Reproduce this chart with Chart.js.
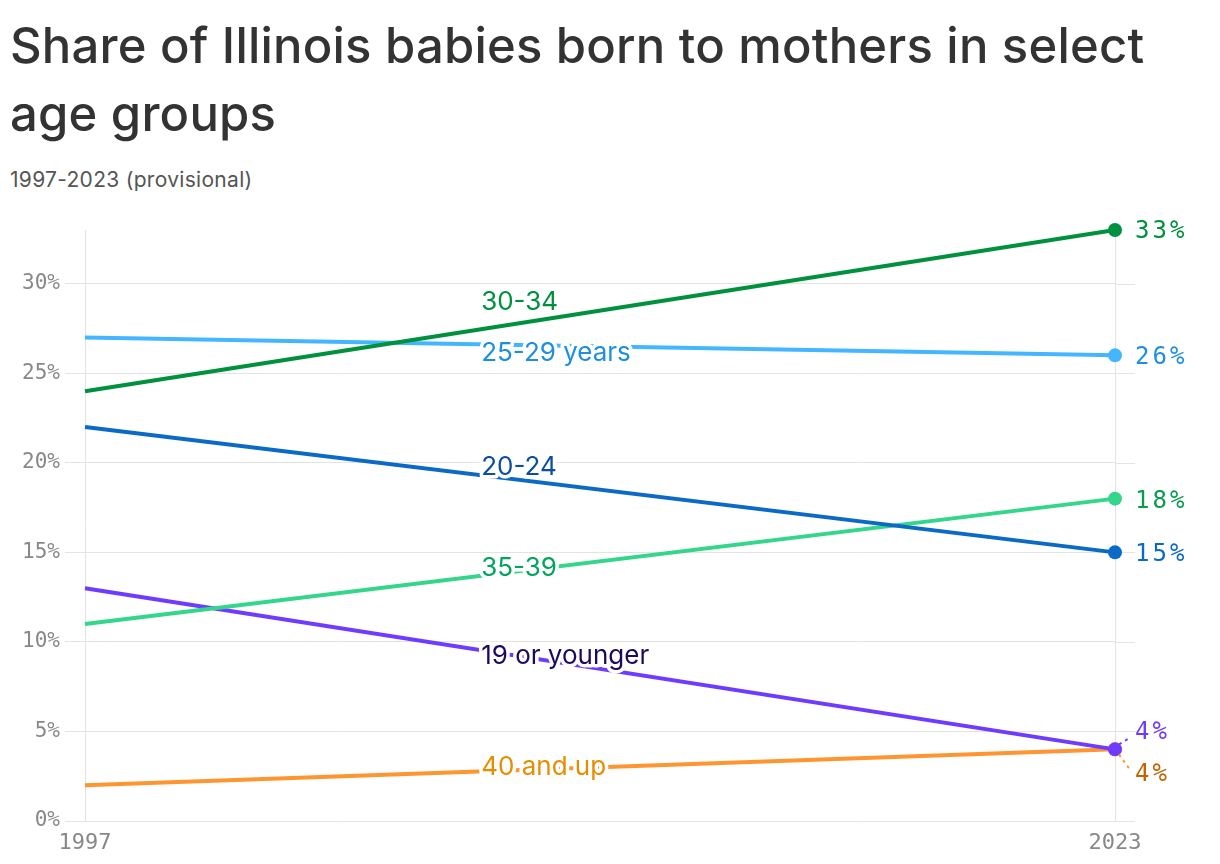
<!DOCTYPE html>
<html>
<head>
<meta charset="utf-8">
<script src="https://cdn.jsdelivr.net/npm/chart.js@4.4.0/dist/chart.umd.min.js"></script>
<style>
    body { margin: 0; background: #fff; width: 1220px; height: 864px; overflow: hidden; font-family: Inter, "Noto Sans", sans-serif; }
    h1 { position: absolute; left: 10px; top: 12px; margin: 0; width: 1180px; font-size: 49px; line-height: 68px; font-weight: 500; color: #333; letter-spacing: 0.2px; }
    .sub { position: absolute; left: 10px; top: 167px; font-size: 21px; color: #555; letter-spacing: 0.3px; }
    .wrap { position: absolute; left: 0; top: 200px; width: 1220px; height: 664px; }
</style>
</head>
<body>
<h1>Share of Illinois babies born to mothers in select age groups</h1>
<div class="sub">1997-2023 (provisional)</div>
<div class="wrap"><canvas id="grafico"></canvas></div>
<script>
// Datos
const anios = [1997, 2023];
const grupos = ['30-34', '25-29 years', '20-24', '35-39', '19 or younger', '40 and up'];
const edad3034 = [24, 33];
const edad2529 = [27, 26];
const edad2024 = [22, 15];
const edad3539 = [11, 18];
const edad19 = [13, 4];
const edad40 = [2, 4];
const ticksY = [0, 5, 10, 15, 20, 25, 30];
const etiquetasFinales = ['33%', '26%', '15%', '18%', '4%', '4%'];

// Estilos (separados de los datos)
const coloresLinea = ['#00913f', '#44b6ff', '#0b6ac6', '#33d68a', '#6e3bff', '#ff9530'];
const coloresTexto = ['#00913f', '#1e8fe0', '#0b4ea2', '#00a560', '#1c0a5c', '#e88c00'];
const coloresFinal = ['#00913f', '#1e8fe0', '#0b6ac6', '#0a9a50', '#6e3bff', '#c26400'];
const desplazTexto = [-27, 9, -8, -8, 6, -4];
const desplazFinal = [2, 2, 2, 3, -17, 25];
const anioEtiqueta = 2007;

const series = [edad3034, edad2529, edad2024, edad3539, edad19, edad40];
const mono = '"DejaVu Sans Mono", "Liberation Mono", monospace';

const etiquetasPlugin = {
    id: 'etiquetas',
    beforeDatasetsDraw(chart) {
        const { ctx, chartArea, scales } = chart;
        ctx.save();
        ctx.strokeStyle = '#e3e3e3';
        ctx.lineWidth = 1;
        ticksY.forEach(v => {
            const y = Math.round(scales.y.getPixelForValue(v)) + 0.5;
            ctx.beginPath();
            ctx.moveTo(chartArea.right, y);
            ctx.lineTo(chartArea.right + 20, y);
            ctx.stroke();
        });
        ctx.restore();
    },
    afterDatasetsDraw(chart) {
        const { ctx, chartArea, scales } = chart;
        ctx.save();
        // etiquetas en medio de la línea
        ctx.font = '26px Inter, "Noto Sans", sans-serif';
        ctx.textBaseline = 'middle';
        ctx.textAlign = 'left';
        const t = (anioEtiqueta - anios[0]) / (anios[1] - anios[0]);
        series.forEach((s, i) => {
            const v = s[0] + (s[1] - s[0]) * t;
            const x = scales.x.getPixelForValue(anioEtiqueta);
            const y = scales.y.getPixelForValue(v) + desplazTexto[i];
            ctx.lineJoin = 'round';
            ctx.strokeStyle = '#fff';
            ctx.lineWidth = 7;
            ctx.strokeText(grupos[i], x, y);
            ctx.fillStyle = coloresTexto[i];
            ctx.fillText(grupos[i], x, y);
        });
        // etiquetas al final
        ctx.font = '24px ' + mono;
        ctx.letterSpacing = '3px';
        series.forEach((s, i) => {
            const px = scales.x.getPixelForValue(anios[1]);
            const py = scales.y.getPixelForValue(s[1]);
            const y = py + desplazFinal[i];
            if (Math.abs(desplazFinal[i]) > 10) {
                ctx.setLineDash([3, 4]);
                ctx.strokeStyle = coloresLinea[i];
                ctx.lineWidth = 2;
                ctx.beginPath();
                ctx.moveTo(px + 4, py + Math.sign(desplazFinal[i]) * 5);
                ctx.lineTo(px + 14, y - Math.sign(desplazFinal[i]) * 6);
                ctx.stroke();
                ctx.setLineDash([]);
            }
            ctx.fillStyle = coloresFinal[i];
            ctx.fillText(etiquetasFinales[i], chartArea.right + 20, y);
        });
        ctx.restore();
    }
};

new Chart(document.getElementById('grafico'), {
    type: 'line',
    data: {
        datasets: series.map((s, i) => ({
            label: grupos[i],
            data: anios.map((a, j) => ({ x: a, y: s[j] })),
            borderColor: coloresLinea[i],
            backgroundColor: coloresLinea[i],
            borderWidth: 4,
            pointRadius: [0, 7],
            pointHoverRadius: [0, 7],
            pointBorderWidth: 0,
            clip: false,
            tension: 0
        }))
    },
    options: {
        responsive: true,
        maintainAspectRatio: false,
        animation: false,
        layout: { padding: { top: 30, right: 105, left: 0, bottom: 0 } },
        plugins: { legend: { display: false }, tooltip: { enabled: false } },
        scales: {
            x: {
                type: 'linear',
                min: anios[0],
                max: anios[1],
                afterBuildTicks: (s) => { s.ticks = anios.map(v => ({ value: v })); },
                afterFit: (s) => { s.height = 43; },
                grid: { color: '#e3e3e3', drawTicks: false },
                border: { display: false },
                ticks: { font: { family: mono, size: 22 }, color: '#888', padding: 9, callback: (v) => String(v), maxRotation: 0 }
            },
            y: {
                min: 0,
                max: 33,
                afterBuildTicks: (s) => { s.ticks = ticksY.map(v => ({ value: v })); },
                afterFit: (s) => { s.width = 85; },
                grid: { color: '#e3e3e3', tickLength: 20 },
                border: { display: false },
                ticks: { font: { family: mono, size: 21 }, color: '#888', padding: 5, callback: (v) => v + '%' }
            }
        }
    },
    plugins: [etiquetasPlugin]
});
</script>
</body>
</html>
